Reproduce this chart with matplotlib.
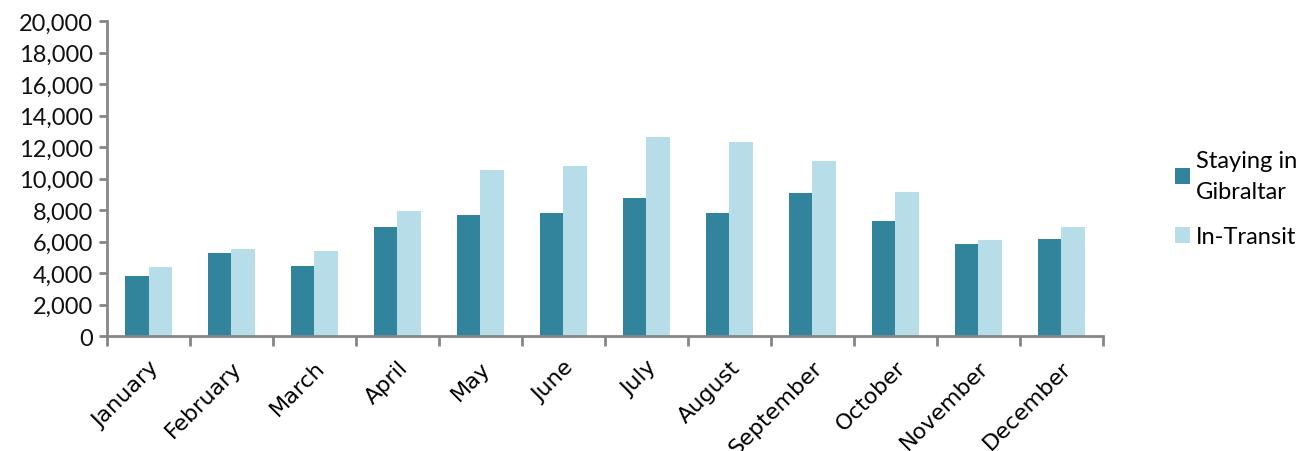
import numpy as np
import matplotlib.pyplot as plt
from matplotlib.ticker import FuncFormatter

months = ["January", "February", "March", "April", "May", "June", "July",
          "August", "September", "October", "November", "December"]
staying = [3800, 5250, 4450, 6950, 7700, 7800, 8800, 7800, 9100, 7300, 5850, 6200]
transit = [4400, 5550, 5400, 7950, 10550, 10800, 12650, 12300, 11100, 9150, 6100, 6950]

dark = "#31849B"
light = "#B7DEE8"
grey = "#868686"

fig = plt.figure(figsize=(13.13, 4.52), dpi=100)
ax = fig.add_axes([0.0815, 0.254, 0.7585, 0.697])

x = np.arange(len(months))
w = 0.283
ax.bar(x - w / 2, staying, w, color=dark, label="Staying in\nGibraltar")
ax.bar(x + w / 2, transit, w, color=light, label="In-Transit")

ax.set_xlim(-0.5, len(months) - 0.5)
ax.set_ylim(0, 20000)
ax.set_yticks(np.arange(0, 20001, 2000))
ax.yaxis.set_major_formatter(FuncFormatter(lambda v, p: f"{int(v):,}"))

for s in ["top", "right"]:
    ax.spines[s].set_visible(False)
for s in ["left", "bottom"]:
    ax.spines[s].set_color(grey)
    ax.spines[s].set_linewidth(2)

# labels at centres, tick marks at category boundaries
ax.set_xticks(x)
ax.set_xticks(np.arange(-0.5, len(months)), minor=True)
ax.set_xticklabels(months, rotation=45, ha="right", va="top",
                   rotation_mode="anchor", fontsize=16, family="DejaVu Sans")
ax.tick_params(axis="x", which="major", length=0, pad=15)
ax.tick_params(axis="x", which="minor", length=7, width=2, color=grey)
ax.tick_params(axis="y", length=6, width=2, color=grey, pad=4)
for lab in ax.get_yticklabels():
    lab.set_family("Lato")
    lab.set_fontsize(17)
    lab.set_color("#111111")

leg = fig.legend(loc="center left", bbox_to_anchor=(0.895, 0.558), frameon=False,
                 prop={"family": "Lato", "size": 17}, handlelength=0.64,
                 handleheight=0.64, handletextpad=0.25, labelspacing=1.05,
                 borderpad=0, borderaxespad=0)
for t in leg.get_texts():
    t.set_linespacing(1.55)

fig.savefig("out.png", dpi=100)
